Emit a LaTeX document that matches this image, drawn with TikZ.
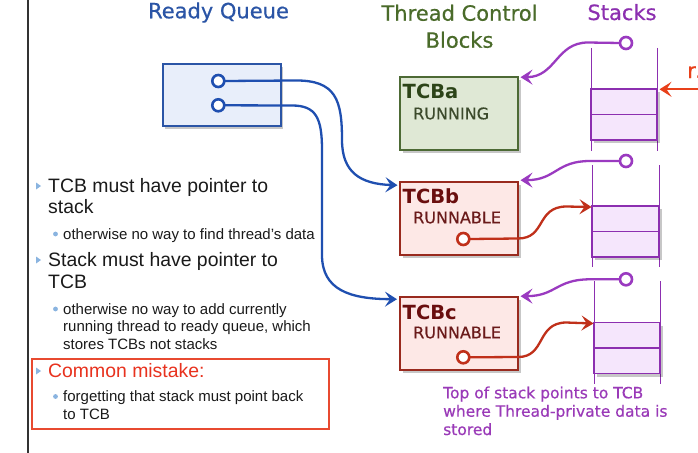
\documentclass[tikz,border=0pt]{standalone}
\usepackage{fontspec}
\setmainfont{Liberation Sans}
\newfontfamily\grandeface{DejaVu Sans}[BoldFont={DejaVu Sans}, BoldFeatures={FakeBold=0.5}]
\newcommand{\grande}{\grandeface\bfseries}
\newfontfamily\grandebold{DejaVu Sans Bold}
\usetikzlibrary{arrows.meta,shadows,calc}

\definecolor{rqblue}{HTML}{2B55A6}
\definecolor{rqfill}{HTML}{E8EEFA}
\definecolor{linkblue}{HTML}{1F4FB0}
\definecolor{tcbgreen}{HTML}{4A6B2A}
\definecolor{greenfill}{HTML}{DFE8D5}
\definecolor{greenedge}{HTML}{4D6A35}
\definecolor{greentext}{HTML}{2C4418}
\definecolor{greenstate}{HTML}{3C4A2C}
\definecolor{redfill}{HTML}{FDE8E6}
\definecolor{rededge}{HTML}{992A1E}
\definecolor{redtext}{HTML}{6A0E0E}
\definecolor{redstate}{HTML}{6A1A1A}
\definecolor{linkred}{HTML}{C0301A}
\definecolor{stackpurple}{HTML}{8C2FB0}
\definecolor{stackfill}{HTML}{F5E6FC}
\definecolor{linkpurple}{HTML}{9A3AC0}
\definecolor{regred}{HTML}{E8401A}
\definecolor{notepurple}{HTML}{9A3AB8}
\definecolor{inkblack}{HTML}{1A1A1A}
\definecolor{alertred}{HTML}{E8321E}
\definecolor{alertedge}{HTML}{E84A30}
\definecolor{bulletblue}{HTML}{8AB4E0}

\tikzset{
  heading/.style={font=\grande\fontsize{21}{24}\selectfont, inner sep=0pt, anchor=base},
  box shadow/.style={drop shadow={shadow xshift=2.5pt, shadow yshift=-3pt, opacity=0.22, fill=black}},
  queuebox/.style={draw=rqblue, fill=rqfill, line width=2pt, box shadow,
    minimum width=118pt, minimum height=62pt, anchor=north west, inner sep=0pt, outer sep=0pt},
  tcbbox/.style={line width=1.8pt, box shadow, minimum width=118pt, minimum height=73pt,
    anchor=north west, inner sep=0pt, outer sep=0pt},
  greenbox/.style={tcbbox, draw=greenedge, fill=greenfill},
  redbox/.style={tcbbox, draw=rededge, fill=redfill},
  tcbname/.style={font=\grandebold\fontsize{19.5}{22}\selectfont, inner sep=0pt, anchor=base west},
  tcbstate/.style={font=\grande\fontsize{16}{19}\selectfont, inner sep=0pt, anchor=base west},
  ptr/.style={circle, draw, fill=white, line width=2.6pt, minimum size=12pt, inner sep=0pt, outer sep=0pt},
  link/.style={line width=2.3pt, -{Stealth[length=12pt,width=15pt,inset=5pt]}},
  stackcell/.style={draw=stackpurple, fill=stackfill, line width=1.6pt, box shadow,
    minimum width=66pt, minimum height=25.5pt, anchor=north west, inner sep=0pt, outer sep=0pt},
  stackwall/.style={draw=stackpurple, line width=0.9pt},
  bodyline/.style={font=\fontsize{19.4}{22}\selectfont, text=inkblack, inner sep=0pt, anchor=base west},
  subline/.style={font=\fontsize{15}{17}\selectfont, text=inkblack, inner sep=0pt, anchor=base west},
  notetext/.style={font=\grande\fontsize{15.5}{18}\selectfont, text=notepurple, inner sep=0pt, anchor=base west},
  arrowbullet/.pic={\fill[bulletblue] (0,-9.5) -- (5,-6) -- (0,-2.5) -- cycle;},
  dotbullet/.pic={\fill[bulletblue] (0,-5) circle[radius=2.4pt];}
}

\begin{document}
\begin{tikzpicture}[x=1pt,y=-1pt]
\clip (0,0) rectangle (698,452);
\fill[white] (0,0) rectangle (698,452);

% left margin rule
\draw[line width=2.2pt, black!80] (28,-2) -- (28,454);

% column headings
\node[heading, text=rqblue] (hqueue) at (218.5,18.3) {Ready Queue};
\node[heading, text=tcbgreen] (htcb1) at (459.5,20.7) {Thread Control};
\node[heading, text=tcbgreen] (htcb2) at (459.5,47.7) {Blocks};
\node[heading, text=stackpurple] (hstack) at (622,20) {Stacks};

% ready queue
\node[queuebox] (queue) at (162.7,64.3) {};
\node[ptr, draw=linkblue] (qa) at (218.3,81) {};
\node[ptr, draw=linkblue] (qb) at (218.3,105.3) {};

% thread control blocks
\node[greenbox] (tcba) at (400,76.7) {};
\node[tcbname, text=greentext] (tcbaname) at (402.5,98) {TCBa};
\node[tcbstate, text=greenstate] (tcbastate) at (413,119.3) {RUNNING};

\node[redbox] (tcbb) at (400,181.7) {};
\node[tcbname, text=redtext] (tcbbname) at (402.5,203.3) {TCBb};
\node[tcbstate, text=redstate] (tcbbstate) at (413,223.3) {RUNNABLE};
\node[ptr, draw=linkred] (cb) at (463.3,239) {};

\node[redbox] (tcbc) at (400,296.7) {};
\node[tcbname, text=redtext] (tcbcname) at (402.5,319.3) {TCBc};
\node[tcbstate, text=redstate] (tcbcstate) at (413,338.3) {RUNNABLE};
\node[ptr, draw=linkred] (cc) at (463.3,357.3) {};

% stacks
\draw[stackwall] (591,48) -- (591,151) (657,48) -- (657,151);
\node[stackcell] (sa1) at (591,89) {};
\node[stackcell] (sa2) at (591,114.5) {};
\node[ptr, draw=linkpurple] (pa) at (626,43) {};

\draw[stackwall] (592,165) -- (592,267) (659,165) -- (659,267);
\node[stackcell, minimum width=67pt] (sb1) at (592,206) {};
\node[stackcell, minimum width=67pt] (sb2) at (592,231.5) {};
\node[ptr, draw=linkpurple] (pb) at (626,161) {};

\draw[stackwall] (594,281) -- (594,384) (660,281) -- (660,384);
\node[stackcell] (sc1) at (594,322.5) {};
\node[stackcell] (sc2) at (594,348) {};
\node[ptr, draw=linkpurple] (pc) at (626,279.3) {};

% ready queue entries point to runnable TCBs
\draw[link, linkblue] (qa.east) -- (295,80.5)
  .. controls (336,80) and (342,100) .. (342,140)
  .. controls (342,172) and (360,184) .. ($(tcbb.north west)+(-2.5,3.5)$);
\draw[link, linkblue] (qb.east) -- (292,105.5)
  .. controls (316,105.5) and (322,118) .. (322,150) -- (322,255)
  .. controls (322,290) and (350,299) .. ($(tcbc.north west)+(-3,2.5)$);

% stack tops point back to their TCBs
\draw[link, linkpurple] (pa.west) -- (588,42.5)
  .. controls (556,42.5) and (556,77) .. ($(tcba.north east)+(2.5,0.5)$);
\draw[link, linkpurple] (pb.west) -- (590,161)
  .. controls (556,161) and (556,180) .. ($(tcbb.north east)+(2.5,-1.5)$);
\draw[link, linkpurple] (pc.west) -- (590,279.3)
  .. controls (556,279.3) and (556,296) .. ($(tcbc.north east)+(2.5,-0.5)$);

% TCBs point to their saved stacks
\draw[link, linkred] (cb.east) -- (518,238.5)
  .. controls (546,238.5) and (536,207) .. (566,206.5) -- ($(sb1.north west)+(-0.5,1)$);
\draw[link, linkred] (cc.east) -- (518,357)
  .. controls (546,357) and (536,323) .. (566,322.5) -- ($(sc1.north west)+(-0.5,1)$);

% stack pointer register of the running thread
\node[heading, text=regred, anchor=base west] (r5) at (687,78) {r5};
\coordinate (r5tail) at (702,89.3);
\draw[link, regred, line width=2pt] (r5tail) -- ($(sa1.north east)+(2.5,0.3)$);

% notes on the left
\pic at (36,192) {arrowbullet};
\node[bodyline] (n1a) at (48,192) {TCB must have pointer to};
\node[bodyline] (n1b) at (48,213.5) {stack};
\pic at (55.5,239) {dotbullet};
\node[subline] (n1c) at (63,239) {otherwise no way to find thread's data};

\pic at (36,266) {arrowbullet};
\node[bodyline] (n2a) at (48,266) {Stack must have pointer to};
\node[bodyline] (n2b) at (48,288) {TCB};
\pic at (55.5,314) {dotbullet};
\node[subline] (n2c) at (63,314) {otherwise no way to add currently};
\node[subline] (n2d) at (63,331.5) {running thread to ready queue, which};
\node[subline] (n2e) at (63,349) {stores TCBs not stacks};

\node[draw=alertedge, line width=1.4pt, minimum width=297pt, minimum height=70pt,
  anchor=north west, inner sep=0pt, outer sep=0pt] (mistake) at (32,359) {};
\pic at (36,377) {arrowbullet};
\node[bodyline, text=alertred] (n3a) at (48,377) {Common mistake:};
\pic at (55.5,401.5) {dotbullet};
\node[subline] (n3b) at (63,401.5) {forgetting that stack must point back};
\node[subline] (n3c) at (63,419) {to TCB};

% caption under the stacks
\node[notetext] (cap1) at (443,398.3) {Top of stack points to TCB};
\node[notetext] (cap2) at (443,416.7) {where Thread-private data is};
\node[notetext] (cap3) at (443,435) {stored};
\end{tikzpicture}
\end{document}
